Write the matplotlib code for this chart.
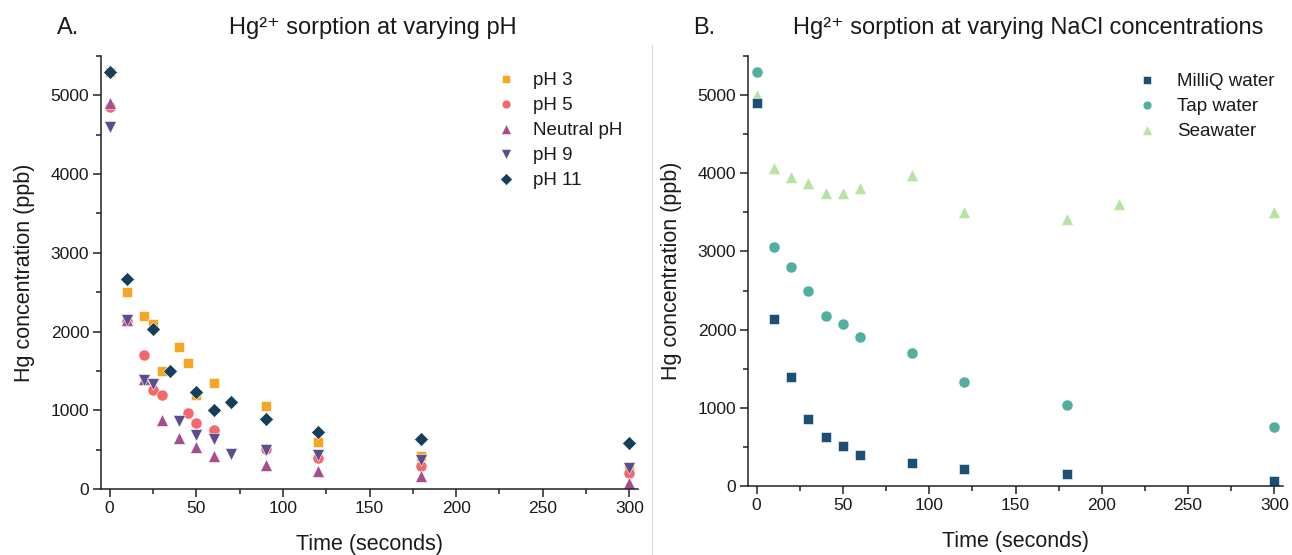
import matplotlib
matplotlib.use("Agg")
import matplotlib.pyplot as plt
from matplotlib.lines import Line2D
from matplotlib.ticker import MultipleLocator

plt.rcParams['font.family'] = ['Liberation Sans', 'DejaVu Sans']
plt.rcParams['mathtext.fontset'] = 'custom'
plt.rcParams['mathtext.rm'] = 'Liberation Sans'
plt.rcParams['mathtext.it'] = 'Liberation Sans:italic'

# ---------------- Panel A data ----------------
t_ph3 = [0, 10, 20, 25, 30, 40, 45, 50, 60, 90, 120, 180, 300]
c_ph3 = [5300, 2500, 2200, 2100, 1500, 1800, 1600, 1200, 1350, 1050, 600, 420, 250]
t_ph5 = [0, 10, 20, 25, 30, 45, 50, 60, 90, 120, 180, 300]
c_ph5 = [4850, 2130, 1700, 1260, 1200, 970, 840, 750, 510, 400, 290, 200]
t_neu = [0, 10, 20, 30, 40, 50, 60, 90, 120, 180, 300]
c_neu = [4900, 2150, 1400, 880, 650, 530, 420, 310, 230, 160, 70]
t_ph9 = [0, 10, 20, 25, 40, 50, 60, 70, 90, 120, 180, 300]
c_ph9 = [4600, 2150, 1390, 1330, 870, 680, 630, 440, 500, 430, 370, 270]
t_ph11 = [0, 10, 25, 35, 50, 60, 70, 90, 120, 180, 300]
c_ph11 = [5300, 2670, 2030, 1500, 1230, 1000, 1100, 890, 730, 640, 590]
labels_a = ["pH 3", "pH 5", "Neutral pH", "pH 9", "pH 11"]

# ---------------- Panel B data ----------------
t_milliq = [0, 10, 20, 30, 40, 50, 60, 90, 120, 180, 300]
c_milliq = [4900, 2130, 1400, 860, 630, 510, 400, 290, 220, 150, 60]
t_tap = [0, 10, 20, 30, 40, 50, 60, 90, 120, 180, 300]
c_tap = [5300, 3060, 2800, 2500, 2170, 2070, 1900, 1700, 1330, 1030, 760]
t_sea = [0, 10, 20, 30, 40, 50, 60, 90, 120, 180, 210, 300]
c_sea = [5000, 4070, 3950, 3880, 3750, 3750, 3810, 3980, 3500, 3410, 3610, 3500]
labels_b = ["MilliQ water", "Tap water", "Seawater"]

W, H = 1292, 555
fig = plt.figure(figsize=(W / 100, H / 100), dpi=100)

def px_axes(x0, y0, x1, y1):
    return fig.add_axes([x0 / W, 1 - y1 / H, (x1 - x0) / W, (y1 - y0) / H])

axA = px_axes(101, 56, 638, 489)
axB = px_axes(748, 56, 1283, 486)

text_col = '#1a1a1a'

def style(ax):
    for s in ['top', 'right']:
        ax.spines[s].set_visible(False)
    for s in ['left', 'bottom']:
        ax.spines[s].set_linewidth(1.1)
        ax.spines[s].set_color('#222222')
    ax.set_xlim(-5, 305)
    ax.set_ylim(0, 5500)
    ax.xaxis.set_major_locator(MultipleLocator(50))
    ax.xaxis.set_minor_locator(MultipleLocator(25))
    ax.yaxis.set_major_locator(MultipleLocator(1000))
    ax.yaxis.set_minor_locator(MultipleLocator(500))
    ax.tick_params(which='major', direction='out', length=5.5, width=1.1, pad=3,
                   labelsize=12.5, colors='#222222', labelcolor=text_col)
    ax.tick_params(which='minor', direction='out', length=3.5, width=1.1, colors='#222222')
    ax.set_xlabel("Time (seconds)", fontsize=15.5, color=text_col, labelpad=13)
    ax.set_ylabel("Hg concentration (ppb)", fontsize=15.5, color=text_col, labelpad=11)

style(axA)
style(axB)

ms = {'s': 7.5, 'o': 8, '^': 8.5, 'v': 8.5, 'D': 7.2}

seriesA = [
    (t_ph3, c_ph3, 's', '#F6A623'),
    (t_ph5, c_ph5, 'o', '#F4676A'),
    (t_neu, c_neu, '^', '#A64D8E'),
    (t_ph9, c_ph9, 'v', '#5B4E8F'),
    (t_ph11, c_ph11, 'D', '#133F5C'),
]
for (t, c, m, col), lab in zip(seriesA, labels_a):
    axA.plot(t, c, linestyle='none', marker=m, markersize=ms[m], color=col,
             markeredgecolor='white', markeredgewidth=0.4, label=lab, clip_on=False)

seriesB = [
    (t_sea, c_sea, '^', '#B5E3A1', labels_b[2]),
    (t_tap, c_tap, 'o', '#52AF9E', labels_b[1]),
    (t_milliq, c_milliq, 's', '#1B4F74', labels_b[0]),
]
for t, c, m, col, lab in seriesB:
    axB.plot(t, c, linestyle='none', marker=m, markersize=ms[m], color=col,
             markeredgecolor='white', markeredgewidth=0.4, label=lab, clip_on=False)

# Legends
hA, lA = axA.get_legend_handles_labels()
legA = fig.legend(hA, lA, loc='upper left', bbox_to_anchor=(497 / W, 1 - 72 / H),
                  frameon=False, fontsize=13.5, markerscale=0.8, handlelength=1.0,
                  handletextpad=0.9, labelspacing=0.42, borderpad=0, borderaxespad=0)
hB, lB = axB.get_legend_handles_labels()
order = [2, 1, 0]
legB = fig.legend([hB[i] for i in order], [lB[i] for i in order], loc='upper left',
                  bbox_to_anchor=(1138 / W, 1 - 73 / H),
                  frameon=False, fontsize=13.5, markerscale=0.8, handlelength=1.0,
                  handletextpad=1.1, labelspacing=0.42, borderpad=0, borderaxespad=0)
for leg in (legA, legB):
    for tx in leg.get_texts():
        tx.set_color(text_col)

# Titles
title_a = "Hg\u00b2\u207a sorption at varying pH"
title_b = "Hg\u00b2\u207a sorption at varying NaCl concentrations"
fig.text(57 / W, 1 - 28 / H, "A.", fontsize=17, va='center', ha='left', color=text_col)
fig.text(373 / W, 1 - 28 / H, title_a, fontsize=17,
         va='center', ha='center', color=text_col)
fig.text(693 / W, 1 - 28 / H, "B.", fontsize=17, va='center', ha='left', color=text_col)
fig.text(1028 / W, 1 - 28 / H, title_b,
         fontsize=17, va='center', ha='center', color=text_col)

# separator
fig.add_artist(Line2D([652 / W, 652 / W], [0, 1 - 45 / H], color='#dcdcdc', lw=0.8))

fig.savefig("out.png", dpi=100)
